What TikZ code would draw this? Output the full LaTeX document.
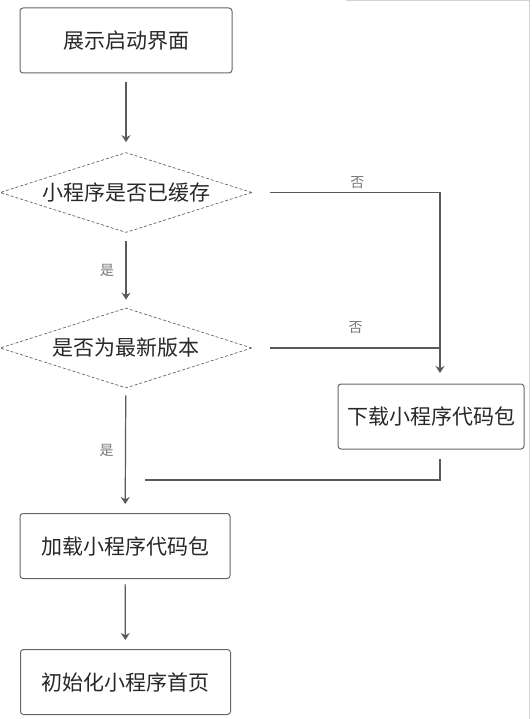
\documentclass[tikz,border=0pt]{standalone}
\usepackage{fontspec}
\setmainfont{Noto Sans CJK SC}
\usepackage{xcolor}
\definecolor{boxline}{RGB}{102, 102, 102}
\definecolor{flowline}{RGB}{90, 90, 90}
\definecolor{boxtext}{RGB}{40, 40, 40}
\definecolor{labeltext}{RGB}{120, 120, 120}
\definecolor{framegray}{RGB}{210, 210, 210}
\usetikzlibrary{shapes.geometric,arrows.meta,positioning,calc}

\begin{document}
\begin{tikzpicture}[
  x=1pt, y=-1pt,
  stepbox/.style={draw=boxline, fill=white, rounded corners=3pt, line width=1pt, font=\fontsize{21}{24}\selectfont, text=boxtext, minimum width=212pt, minimum height=65pt, inner sep=0pt},
  decision/.style={diamond, aspect=3.15, draw=boxline, densely dashed, line width=0.7pt, font=\fontsize{21}{24}\selectfont, text=boxtext, minimum width=252pt, minimum height=80pt, inner sep=0pt},
  arrow/.style={-{Stealth[length=7pt, width=9pt]}, line width=1.2pt, color=flowline},
  line/.style={line width=1.2pt, color=flowline},
  answer/.style={font=\fontsize{14}{16}\selectfont, text=labeltext}
]
\useasboundingbox (0,0) rectangle (531,719);

% Screenshot frame
\draw[framegray, line width=1pt] (346,1) -- (529,1) -- (529,719);

% Main column
\node[stepbox] (splash) at (126, 40.5) {展示启动界面};
\node[decision] (cached) at (126, 192.5) {小程序是否已缓存};
\node[decision] (latest) at (126, 348) {是否为最新版本};
\node[stepbox, minimum width=186pt] (download) at (431, 416.5) {下载小程序代码包};
\node[stepbox, minimum width=210pt] (load) at (125, 546) {加载小程序代码包};
\node[stepbox, minimum width=210pt] (init) at (125.5, 682) {初始化小程序首页};

% Free ends
\coordinate (dltop) at (440, 373);
\coordinate (back) at (145, 480);

% Connections
\draw[arrow, shorten <=9pt, shorten >=10pt] (splash) -- (cached);
\draw[arrow, shorten <=8pt, shorten >=8pt] (cached) -- node[answer, left=8pt] {是} (latest);
\draw[arrow, shorten <=7pt, shorten >=9pt] (latest) -- node[answer, left=8pt] {是} (load);
\draw[arrow, shorten <=5pt, shorten >=9pt] (load) -- (init);

\draw[arrow, shorten <=18pt] (cached.east) -| node[answer, above, pos=0.28] {否} (dltop);
\draw[line, shorten <=18pt] (latest.east) -- node[answer, above=10pt, pos=0.55] {否} (latest.east -| dltop);
\draw[line, shorten <=9pt] (download.south -| dltop) |- (back);

\end{tikzpicture}
\end{document}
